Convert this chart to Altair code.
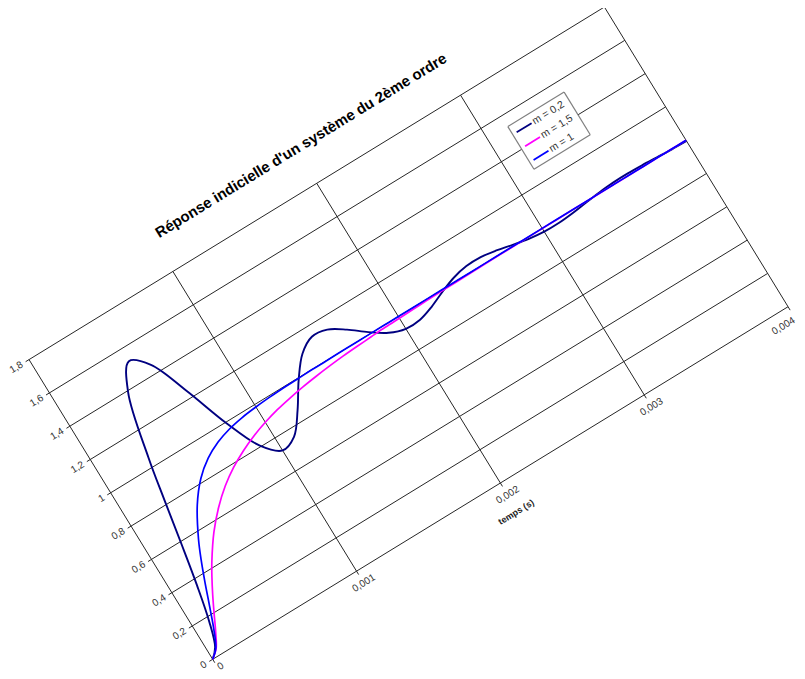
import math
import altair as alt
import pandas as pd

# ---------------- data ----------------
TIME_S = [0.0, 0.00005, 0.0001, 0.00015, 0.0002, 0.00025, 0.0003,
          0.0004, 0.0005, 0.0006, 0.0007, 0.0008, 0.0009, 0.0010,
          0.0011, 0.0012, 0.0013, 0.0014, 0.0015, 0.0016, 0.0017, 0.0018, 0.0019, 0.0020,
          0.0021, 0.0022, 0.0023, 0.0024, 0.0025, 0.0026, 0.0027, 0.0028, 0.0029, 0.0030,
          0.0031, 0.0032, 0.0033, 0.0034, 0.0035, 0.0036, 0.0037, 0.0038, 0.0039, 0.0040]

M02 = [0.0, 0.047, 0.176, 0.366, 0.591, 0.828, 1.052,
       1.393, 1.526, 1.451, 1.241, 0.996, 0.807, 0.725,
       0.754, 0.860, 0.990, 1.094, 1.143, 1.133, 1.080, 1.012, 0.955, 0.926,
       0.928, 0.954, 0.990, 1.021, 1.038, 1.039, 1.026, 1.007, 0.990, 0.980,
       0.979, 0.985, 0.995, 1.004, 1.010, 1.011, 1.008, 1.003, 0.998, 0.995]

M15 = [0.0, 0.037, 0.112, 0.198, 0.282, 0.360, 0.431,
       0.552, 0.647, 0.723, 0.782, 0.828, 0.865, 0.894,
       0.917, 0.934, 0.948, 0.959, 0.968, 0.975, 0.980, 0.984, 0.988, 0.990,
       0.992, 0.994, 0.995, 0.996, 0.997, 0.998, 0.998, 0.9986, 0.9989, 0.9991,
       0.9993, 0.9995, 0.9996, 0.9997, 0.9997, 0.9998, 0.9998, 0.9999, 0.9999, 0.9999]

M1 = [0.0, 0.040, 0.131, 0.243, 0.358, 0.466, 0.562,
      0.715, 0.821, 0.890, 0.934, 0.961, 0.977, 0.986,
      0.992, 0.996, 0.997, 0.999, 0.999, 1.0, 1.0, 1.0, 1.0, 1.0,
      1.0, 1.0, 1.0, 1.0, 1.0, 1.0, 1.0, 1.0, 1.0, 1.0,
      1.0, 1.0, 1.0, 1.0, 1.0, 1.0, 1.0, 1.0, 1.0, 1.0]

SERIES = ["m = 0,2", "m = 1,5", "m = 1"]
COLORS = ["#000080", "#FF00FF", "#0000FF"]

Y_TICKS = [0, 0.2, 0.4, 0.6, 0.8, 1.0, 1.2, 1.4, 1.6, 1.8]
Y_LABELS = ["0", "0,2", "0,4", "0,6", "0,8", "1", "1,2", "1,4", "1,6", "1,8"]
X_TICKS = [0, 0.001, 0.002, 0.003, 0.004]
X_LABELS = ["0", "0,001", "0,002", "0,003", "0,004"]

TITLE = "Réponse indicielle d'un système du 2ème ordre"
X_TITLE = "temps (s)"

# ---------------- geometry / style ----------------
T_MAX, V_MAX = 0.004, 1.8
W, H = 789, 663                 # svg size
OX, OY = 204.7, 651.3           # plot origin (svg px)
PW, PH = 674.8, 351.5           # plot area size before rotation
ANGLE = 31.5                    # counter-clockwise rotation of the whole chart
COS = math.cos(math.radians(ANGLE))
SIN = math.sin(math.radians(ANGLE))
TEXT_ANGLE = 360 - ANGLE
FONT = "Liberation Sans"
GRID = "#262626"
LABEL = "#333333"


def xy(along, up, xn, yn):
    """Rotate chart-frame pixel offsets (along x axis, up y axis) into svg px."""
    return {
        xn: f"{OX} + ({along})*{COS:.6f} - ({up})*{SIN:.6f}",
        yn: f"{OY} - ({along})*{SIN:.6f} - ({up})*{COS:.6f}",
    }


def a_t(f):
    return f"datum.{f}/{T_MAX}*{PW}"


def u_v(f):
    return f"datum.{f}/{V_MAX}*{PH}"


def sx(field):
    return alt.X(f"{field}:Q", scale=alt.Scale(domain=[0, W], range=[0, W], nice=False, zero=False), axis=None)


def sy(field):
    return alt.Y(f"{field}:Q", scale=alt.Scale(domain=[0, H], range=[0, H], nice=False, zero=False), axis=None)


color_scale = alt.Scale(domain=SERIES, range=COLORS)

# ---------------- grid, frame and ticks ----------------
grid_df = pd.DataFrame(
    [{"t0": 0.0, "v0": v, "t1": T_MAX, "v1": v} for v in Y_TICKS]
    + [{"t0": t, "v0": 0.0, "t1": t, "v1": V_MAX} for t in X_TICKS]
)
grid = (
    alt.Chart(grid_df)
    .transform_calculate(**xy(a_t("t0"), u_v("v0"), "x", "y"), **xy(a_t("t1"), u_v("v1"), "x2", "y2"))
    .mark_rule(color=GRID, strokeWidth=1)
    .encode(x=sx("x"), y=sy("y"), x2=alt.X2("x2:Q"), y2=alt.Y2("y2:Q"))
)

ytick_df = pd.DataFrame({"v": Y_TICKS, "label": Y_LABELS})
yticks = (
    alt.Chart(ytick_df)
    .transform_calculate(**xy("-4", u_v("v"), "x", "y"), **xy("0", u_v("v"), "x2", "y2"))
    .mark_rule(color=GRID, strokeWidth=1)
    .encode(x=sx("x"), y=sy("y"), x2=alt.X2("x2:Q"), y2=alt.Y2("y2:Q"))
)
ylabels = (
    alt.Chart(ytick_df)
    .transform_calculate(**xy("-8", u_v("v"), "x", "y"))
    .mark_text(align="right", baseline="middle", angle=TEXT_ANGLE, font=FONT, fontSize=10, color=LABEL)
    .encode(x=sx("x"), y=sy("y"), text="label:N")
)

xtick_df = pd.DataFrame({"t": X_TICKS, "label": X_LABELS})
xticks = (
    alt.Chart(xtick_df)
    .transform_calculate(**xy(a_t("t"), "-4", "x", "y"), **xy(a_t("t"), "0", "x2", "y2"))
    .mark_rule(color=GRID, strokeWidth=1)
    .encode(x=sx("x"), y=sy("y"), x2=alt.X2("x2:Q"), y2=alt.Y2("y2:Q"))
)
# the labels at both ends are nudged slightly so that they stay inside the page
xlabels = (
    alt.Chart(xtick_df)
    .transform_calculate(**xy(f"{a_t('t')} + (datum.t == 0 ? 3 : (datum.t >= {T_MAX} ? -14 : 0))",
                              "datum.t == 0 ? -10 : -14", "x", "y"))
    .mark_text(align="center", baseline="middle", angle=TEXT_ANGLE, font=FONT, fontSize=10, color=LABEL)
    .encode(x=sx("x"), y=sy("y"), text="label:N")
)

# ---------------- curves ----------------
curve_layers = []
for name, vals, sw in zip(SERIES, [M02, M15, M1], [1.9, 1.7, 1.7]):
    df = pd.DataFrame({"series": name, "t": TIME_S, "v": vals, "i": list(range(len(TIME_S)))})
    curve_layers.append(
        alt.Chart(df)
        .transform_calculate(**xy(a_t("t"), u_v("v"), "x", "y"))
        .mark_line(strokeWidth=sw, interpolate="catmull-rom")
        .encode(x=sx("x"), y=sy("y"), order="i:Q",
                color=alt.Color("series:N", scale=color_scale, legend=None))
    )

# ---------------- legend (rotated with the chart) ----------------
LEG_A0, LEG_A1, LEG_U0, LEG_U1 = 530, 596, 250, 300
box_df = pd.DataFrame([{"k": 0}])
box_fill = (
    alt.Chart(box_df)
    .transform_calculate(**xy(str(LEG_A0), str((LEG_U0 + LEG_U1) / 2), "x", "y"),
                         **xy(str(LEG_A1), str((LEG_U0 + LEG_U1) / 2), "x2", "y2"))
    .mark_rule(color="white", strokeWidth=LEG_U1 - LEG_U0, strokeCap="butt")
    .encode(x=sx("x"), y=sy("y"), x2=alt.X2("x2:Q"), y2=alt.Y2("y2:Q"))
)
edges_df = pd.DataFrame([
    {"a0": LEG_A0, "u0": LEG_U0, "a1": LEG_A1, "u1": LEG_U0},
    {"a0": LEG_A1, "u0": LEG_U0, "a1": LEG_A1, "u1": LEG_U1},
    {"a0": LEG_A1, "u0": LEG_U1, "a1": LEG_A0, "u1": LEG_U1},
    {"a0": LEG_A0, "u0": LEG_U1, "a1": LEG_A0, "u1": LEG_U0},
])
box_edges = (
    alt.Chart(edges_df)
    .transform_calculate(**xy("datum.a0", "datum.u0", "x", "y"), **xy("datum.a1", "datum.u1", "x2", "y2"))
    .mark_rule(color="#7f7f7f", strokeWidth=1.2)
    .encode(x=sx("x"), y=sy("y"), x2=alt.X2("x2:Q"), y2=alt.Y2("y2:Q"))
)
leg_df = pd.DataFrame({"series": SERIES, "row": [0, 1, 2]})
leg_lines = (
    alt.Chart(leg_df)
    .transform_calculate(**xy("534.5", "290.5 - 16.2*datum.row", "x", "y"),
                         **xy("552", "290.5 - 16.2*datum.row", "x2", "y2"))
    .mark_rule(strokeWidth=1.8)
    .encode(x=sx("x"), y=sy("y"), x2=alt.X2("x2:Q"), y2=alt.Y2("y2:Q"),
            color=alt.Color("series:N", scale=color_scale, legend=None))
)
leg_text = (
    alt.Chart(leg_df)
    .transform_calculate(**xy("554", "290.5 - 16.2*datum.row", "x", "y"))
    .mark_text(align="left", baseline="middle", angle=TEXT_ANGLE, font=FONT, fontSize=10.5, color=LABEL)
    .encode(x=sx("x"), y=sy("y"), text="series:N")
)

# ---------------- titles ----------------
title_df = pd.DataFrame([{"text": TITLE}])
title = (
    alt.Chart(title_df)
    .transform_calculate(**xy("343.7", "392", "x", "y"))
    .mark_text(align="center", baseline="middle", angle=TEXT_ANGLE, font=FONT, fontSize=15,
               fontWeight="bold", color="black")
    .encode(x=sx("x"), y=sy("y"), text="text:N")
)
xtitle_df = pd.DataFrame([{"text": X_TITLE}])
xtitle = (
    alt.Chart(xtitle_df)
    .transform_calculate(**xy("335.6", "-33", "x", "y"))
    .mark_text(align="center", baseline="middle", angle=TEXT_ANGLE, font=FONT, fontSize=9,
               fontWeight="bold", color="#222222")
    .encode(x=sx("x"), y=sy("y"), text="text:N")
)

chart = (
    alt.layer(grid, yticks, xticks, *curve_layers, box_fill, box_edges, leg_lines, leg_text,
              ylabels, xlabels, title, xtitle)
    .properties(width=W, height=H, autosize=alt.AutoSizeParams(type="none"), padding=0,
                background="white")
    .configure_view(strokeWidth=0)
)

chart.save("out.html", embed_options={"renderer": "svg", "actions": False})
